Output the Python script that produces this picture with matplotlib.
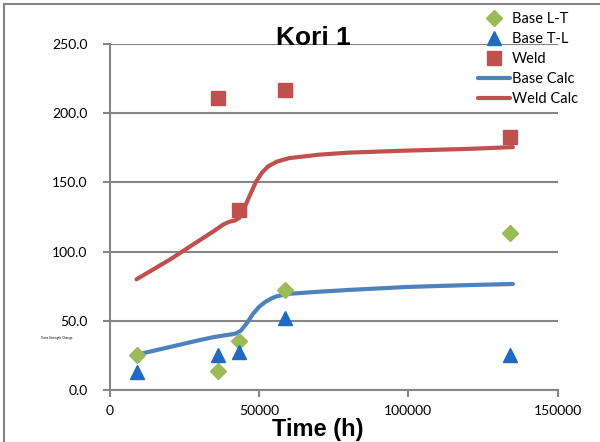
import numpy as np
import matplotlib.pyplot as plt
from matplotlib.lines import Line2D

# measured points
base_lt_t = [9000, 36300, 43400, 58700, 134000]
base_lt_v = [25.0, 14.0, 35.5, 72.5, 113.5]
base_tl_t = [9000, 36300, 43400, 58700, 134000]
base_tl_v = [13.0, 25.5, 27.5, 52.0, 25.0]
weld_t = [36300, 43400, 58700, 134000]
weld_v = [211.0, 130.0, 216.5, 182.5]

# calc curves
base_calc_t = [9000, 15000, 20000, 25000, 30000, 35000, 38500, 41000, 42500, 44000, 46000,
               48000, 50000, 52000, 54000, 56000, 60000, 70000, 80000, 100000, 120000, 135000]
base_calc_v = [25.5, 28.5, 31.0, 33.5, 36.0, 38.3, 39.5, 40.3, 41.0, 43.0, 48.5,
               55.0, 60.0, 63.5, 66.0, 67.8, 69.5, 71.0, 72.3, 74.5, 75.8, 76.6]
weld_calc_t = [9000, 20000, 30000, 35000, 38000, 40000, 42000, 43500, 45000, 47000, 49000,
               51000, 53000, 56000, 60000, 70000, 80000, 100000, 120000, 135000]
weld_calc_v = [80.0, 94.0, 108.0, 115.0, 119.5, 121.5, 122.5, 124.5, 131.0, 141.0, 150.5,
               157.0, 161.5, 165.0, 167.5, 170.0, 171.5, 173.0, 174.2, 175.5]

xticks = [0, 50000, 100000, 150000]
yticks = [0, 50, 100, 150, 200, 250]

grey = '#868686'

fig = plt.figure(figsize=(6.0, 4.42), dpi=100)
ax = fig.add_axes([0.1827, 0.1176, 0.7468, 0.7829])

ax.plot(base_lt_t, base_lt_v, 'D', color='#9BBB59', ms=8, mec='#9BBB59', label='Base L-T', zorder=4)
ax.plot(base_tl_t, base_tl_v, '^', color='#1F6BC2', ms=10, mec='#1F6BC2', label='Base T-L', zorder=4)
ax.plot(weld_t, weld_v, 's', color='#C0504D', ms=9.5, mec='#C0504D', label='Weld', zorder=4)
ax.plot(base_calc_t, base_calc_v, '-', color='#4F81BD', lw=3, label='Base Calc', zorder=3,
        solid_capstyle='round')
ax.plot(weld_calc_t, weld_calc_v, '-', color='#C0504D', lw=3, label='Weld Calc', zorder=3,
        solid_capstyle='round')

ax.set_xlim(0, 150000)
ax.set_ylim(0, 250)
ax.set_xticks(xticks)
ax.set_xticklabels([str(t) for t in xticks])
ax.set_yticks(yticks)
ax.set_yticklabels(['%.1f' % v for v in yticks])
ax.yaxis.grid(True, color=grey, lw=1.5)
ax.set_axisbelow(True)
for s in ['top', 'right']:
    ax.spines[s].set_visible(False)
for s in ['left', 'bottom']:
    ax.spines[s].set_color(grey)
    ax.spines[s].set_linewidth(1.5)
ax.tick_params(axis='both', direction='out', length=5, width=1.5, color=grey,
               labelsize=10, pad=6)
ax.tick_params(axis='y', pad=11)
for lab in ax.get_xticklabels() + ax.get_yticklabels():
    lab.set_family('Lato')

fig.text(0.523, 1 - 45 / 442, 'Kori 1', ha='center', va='baseline', fontsize=19,
         fontweight='bold', family='Liberation Sans')
fig.text(0.53, 1 - 436 / 442, 'Time (h)', ha='center', va='baseline', fontsize=17,
         fontweight='bold', family='Liberation Sans')
fig.text(0.068, 1 - 338 / 442, 'Trans Strength Change', ha='left', va='center', fontsize=2)

leg = fig.legend(loc='upper left', bbox_to_anchor=(0.787, 1 - 6 / 442), frameon=False,
                 handlelength=2.2, handletextpad=0.1, labelspacing=0.42,
                 borderaxespad=0, prop={'family': 'Lato', 'size': 10.5})

# figure border (clipped on right and bottom)
fig.add_artist(Line2D([4 / 600, 4 / 600], [0, 1 - 4 / 442], color=grey, lw=1.5))
fig.add_artist(Line2D([4 / 600, 1], [1 - 4 / 442, 1 - 4 / 442], color=grey, lw=1.5))

fig.savefig('out.png', dpi=100)
